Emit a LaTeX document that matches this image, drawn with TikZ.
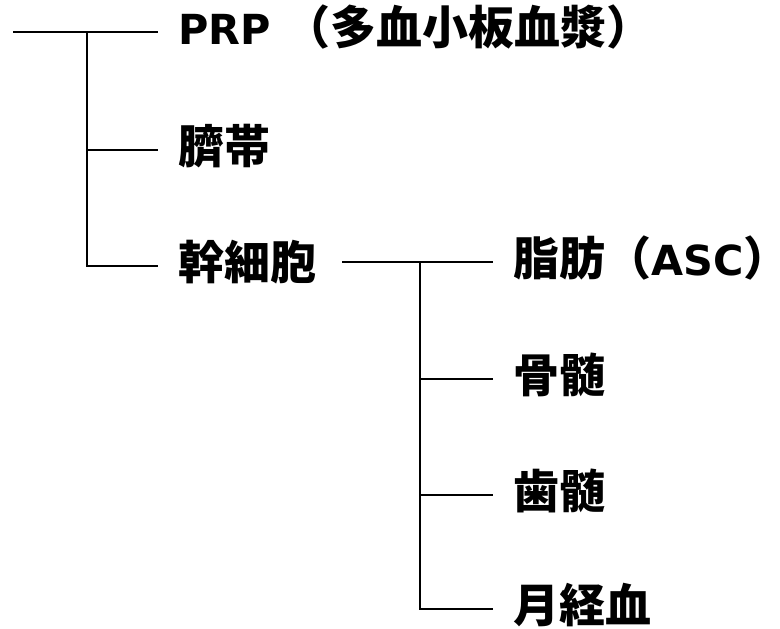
\documentclass[tikz,border=0pt]{standalone}
\usepackage{fontspec}
\setmainfont{DejaVu Sans}[Scale=0.9]
\newfontfamily\jp{Noto Sans CJK JP}
\tikzset{
    leaf/.style={anchor=west,inner sep=0pt,text height=38pt,text depth=12pt,
        font=\fontsize{46}{50}\selectfont\bfseries},
    branch/.style={line width=1.6pt,shorten >=20pt}
}
\begin{document}
\begin{tikzpicture}[x=1pt,y=1pt]
        \useasboundingbox (0,0) rectangle (780,-629);
        % left tree
        \coordinate (root) at (13,-32);
        \coordinate (j1) at (87,-32);
        \node[leaf] (prp) at (178,-32) {PRP\kern14pt{\jp（多血小板血漿）}};
        \node[leaf] (umb) at (178,-150) {\jp 臍帯};
        \node[leaf] (stem) at (178,-266) {\jp 幹細胞};
        \draw[branch] (root) -- (prp.west);
        \draw[branch] (j1) |- (umb.west);
        \draw[branch] (j1) |- (stem.west);
        % right tree
        \coordinate (j2) at (420,-262);
        \node[leaf] (fat) at (513,-262) {{\jp 脂肪（}ASC{\jp ）}};
        \node[leaf] (bone) at (513,-379) {\jp 骨髄};
        \node[leaf] (pulp) at (513,-495) {\jp 歯髄};
        \node[leaf] (mens) at (513,-609) {\jp 月経血};
        \draw[branch] ([xshift=26pt]stem.east |- j2) -- (fat.west);
        \foreach \n in {bone,pulp,mens}
            \draw[branch] (j2) |- (\n.west);
\end{tikzpicture}
\end{document}
